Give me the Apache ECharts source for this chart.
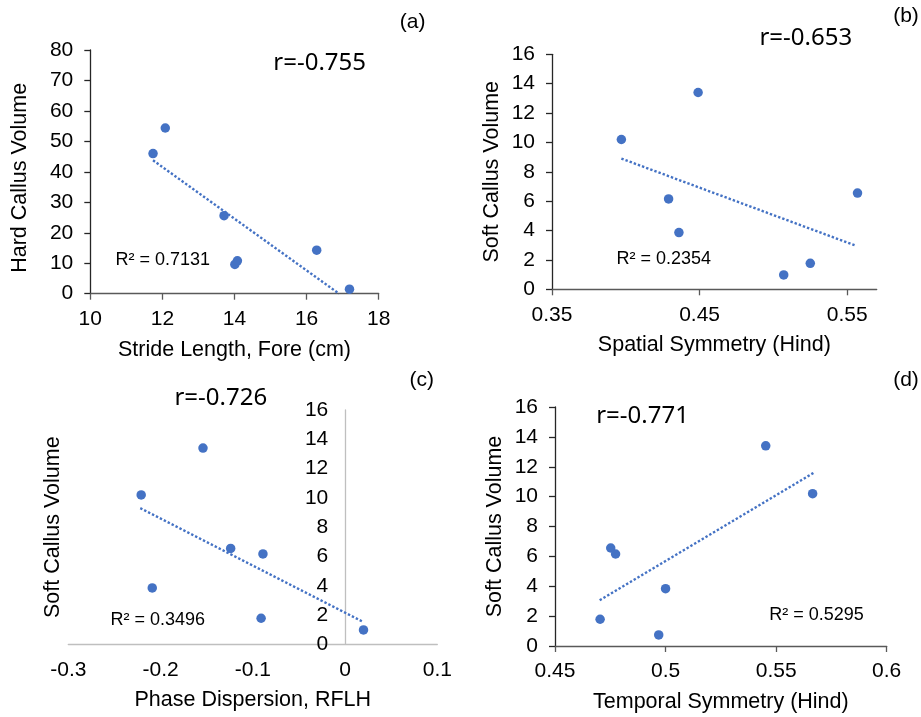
<!DOCTYPE html>
<html>
<head>
<meta charset="utf-8">
<script src="https://cdn.jsdelivr.net/npm/echarts@6/dist/echarts.min.js"></script>
<style>
  html, body { margin: 0; padding: 0; background: #fff; }
  #chart { width: 921px; height: 717px; }
</style>
</head>
<body>
<div id="chart"></div>
<script>
// (a) stride length vs hard callus
const strideFore = [11.74, 12.08, 13.71, 14.01, 14.08, 16.28, 17.19]
const hardCallus = [46.0, 54.4, 25.6, 9.6, 10.8, 14.3, 1.5]
const trendA = [[11.74, 43.8], [16.9, 0]]
// (b) spatial symmetry vs soft callus
const spatialHind = [0.397, 0.449, 0.429, 0.436, 0.507, 0.525, 0.557]
const softB = [10.2, 13.4, 6.15, 3.86, 0.98, 1.77, 6.55]
const trendB = [[0.397, 8.9], [0.555, 3.0]]
// (c) phase dispersion vs soft callus
const phaseRFLH = [-0.221, -0.154, -0.124, -0.089, -0.209, -0.091, 0.020]
const softC = [10.2, 13.4, 6.55, 6.17, 3.85, 1.78, 0.98]
const trendC = [[-0.222, 9.3], [0.019, 1.55]]
// (d) temporal symmetry vs soft callus
const temporalHind = [0.5453, 0.5665, 0.4752, 0.4774, 0.5000, 0.4704, 0.4969]
const softD = [13.4, 10.2, 6.56, 6.16, 3.84, 1.79, 0.74]
const trendD = [[0.4702, 3.06], [0.567, 11.6]]

const blue = '#4472C4'
const arial = 'Liberation Sans'

const pairs = (xs, ys) => xs.map((x, i) => [x, ys[i]])

function xAxisOpt(idx, name, min, max, interval, opts = {}) {
  return Object.assign({
    gridIndex: idx,
    type: 'value',
    min: min,
    max: max,
    interval: interval,
    name: name,
    nameLocation: 'middle',
    nameGap: 45,
    nameTextStyle: { fontFamily: arial, fontSize: 21.5, color: '#000' },
    axisLine: { show: true, lineStyle: { color: '#595959', width: 1.3 } },
    axisTick: { show: true, length: 6, lineStyle: { color: '#595959', width: 1.3 } },
    axisLabel: { fontFamily: arial, fontSize: 21, color: '#000', margin: 15 },
    splitLine: { show: false }
  }, opts)
}

function yAxisOpt(idx, name, max, interval, nameGap, opts = {}) {
  return Object.assign({
    gridIndex: idx,
    type: 'value',
    min: 0,
    max: max,
    interval: interval,
    name: name,
    nameLocation: 'middle',
    nameGap: nameGap,
    nameTextStyle: { fontFamily: arial, fontSize: 21.5, color: '#000' },
    axisLine: { show: true, lineStyle: { color: '#262626', width: 1.3 } },
    axisTick: { show: true, length: 6, lineStyle: { color: '#262626', width: 1.3 } },
    axisLabel: { fontFamily: arial, fontSize: 21, color: '#000', margin: 17 },
    splitLine: { show: false }
  }, opts)
}

function scatter(idx, data) {
  return {
    type: 'scatter',
    xAxisIndex: idx,
    yAxisIndex: idx,
    data: data,
    symbolSize: 9.5,
    itemStyle: { color: blue, opacity: 1 },
    z: 3
  }
}

function trend(idx, data) {
  return {
    type: 'line',
    xAxisIndex: idx,
    yAxisIndex: idx,
    data: data,
    showSymbol: false,
    symbol: 'none',
    clip: true,
    lineStyle: { color: blue, width: 2.4, type: [2.4, 2], opacity: 1 },
    z: 2
  }
}

function txt(x, y, text, size, font) {
  return {
    type: 'text',
    x: x,
    y: y,
    style: {
      text: text,
      fontSize: size,
      fontFamily: font || arial,
      fill: '#000',
      align: 'center',
      verticalAlign: 'middle'
    }
  }
}

const gray = '#BFBFBF'
const chart = echarts.init(document.getElementById('chart'))
chart.setOption({
  animation: false,
  backgroundColor: '#fff',
  grid: [
    { left: 90.3, top: 50, width: 288.4, height: 243.7, outerBoundsMode: 'none' },
    { left: 552, top: 54.3, width: 324.7, height: 235, outerBoundsMode: 'none' },
    { left: 68.3, top: 410, width: 369, height: 234.3, outerBoundsMode: 'none' },
    { left: 555, top: 407, width: 331.7, height: 239, outerBoundsMode: 'none' }
  ],
  xAxis: [
    xAxisOpt(0, 'Stride Length, Fore (cm)', 10, 18, 2),
    xAxisOpt(1, 'Spatial Symmetry (Hind)', 0.35, 0.57, 0.1, {
      axisLabel: { fontFamily: arial, fontSize: 21, color: '#000', margin: 15, customValues: [0.35, 0.45, 0.55] },
      axisTick: { show: true, length: 6, lineStyle: { color: '#595959', width: 1.3 }, customValues: [0.35, 0.45, 0.55] }
    }),
    xAxisOpt(2, 'Phase Dispersion, RFLH', -0.3, 0.1, 0.1, {
      axisLine: { show: true, lineStyle: { color: gray, width: 1.3 } },
      axisTick: { show: false }
    }),
    xAxisOpt(3, 'Temporal Symmetry (Hind)', 0.45, 0.6, 0.05)
  ],
  yAxis: [
    yAxisOpt(0, 'Hard Callus Volume', 80, 10, 59.5, {
      nameTextStyle: { fontFamily: arial, fontSize: 21.5, color: '#000', padding: [0, 12, 0, 0] }
    }),
    yAxisOpt(1, 'Soft Callus Volume', 16, 2, 49),
    // panel c: vertical axis sits at x = 0, moved there with a negative offset
    yAxisOpt(2, 'Soft Callus Volume', 16, 2, 281, {
      offset: -277,
      axisLine: { show: true, onZero: false, lineStyle: { color: gray, width: 1.3 } },
      axisTick: { show: false }
    }),
    yAxisOpt(3, 'Soft Callus Volume', 16, 2, 49)
  ],
  series: [
    trend(0, trendA), scatter(0, pairs(strideFore, hardCallus)),
    trend(1, trendB), scatter(1, pairs(spatialHind, softB)),
    trend(2, trendC), scatter(2, pairs(phaseRFLH, softC)),
    trend(3, trendD), scatter(3, pairs(temporalHind, softD))
  ],
  graphic: [
    txt(412.7, 22, '(a)', 21),
    txt(906, 16.7, '(b)', 21),
    txt(421.7, 380, '(c)', 21),
    txt(906, 380.7, '(d)', 21),
    txt(319.7, 63.3, 'r=-0.755', 24, 'Noto Sans'),
    txt(805.8, 37.7, 'r=-0.653', 24, 'Noto Sans'),
    txt(220.8, 398.3, 'r=-0.726', 24, 'Noto Sans'),
    txt(642.5, 416, 'r=-0.771', 24, 'Noto Sans'),
    txt(162.7, 260, 'R² = 0.7131', 18),
    txt(663.7, 259.3, 'R² = 0.2354', 18),
    txt(157.8, 620, 'R² = 0.3496', 18),
    txt(816.5, 615, 'R² = 0.5295', 18)
  ]
})
</script>
</body>
</html>
